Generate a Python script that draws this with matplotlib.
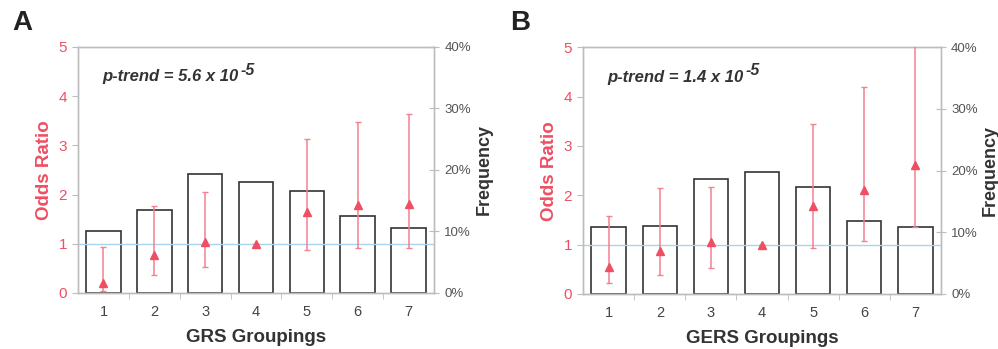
import matplotlib.pyplot as plt
import numpy as np

plt.rcParams['font.family'] = ['Liberation Sans', 'DejaVu Sans']

# Data
groups = [1, 2, 3, 4, 5, 6, 7]

# Panel A (GRS)
freq_a = [10.0, 13.5, 19.4, 18.1, 16.6, 12.5, 10.5]
or_a = [0.20, 0.78, 1.03, 1.00, 1.65, 1.78, 1.81]
lo_a = [0.05, 0.36, 0.53, 1.00, 0.88, 0.91, 0.91]
hi_a = [0.93, 1.76, 2.05, 1.00, 3.13, 3.47, 3.64]

# Panel B (GERS)
freq_b = [10.8, 11.1, 18.6, 19.8, 17.3, 11.8, 10.8]
or_b = [0.55, 0.88, 1.05, 1.00, 1.79, 2.11, 2.61]
lo_b = [0.22, 0.39, 0.52, 1.00, 0.94, 1.07, 1.35]
hi_b = [1.59, 2.14, 2.17, 1.00, 3.45, 4.19, 5.80]

red = '#ef4f63'
red_light = '#f2808e'
gray = '#bdbdbd'
dark = '#333333'

fig = plt.figure(figsize=(9.98, 3.49), dpi=100)


def panel(rect, letter, lx, freq, ors, lo, hi, xlabel, ptext, pexp):
    ax = fig.add_axes(rect)
    ax2 = ax.twinx()
    x = np.array(groups)

    # bars on the frequency axis (right)
    ax2.bar(x, freq, width=0.68, facecolor='white', edgecolor=dark, linewidth=1.2, zorder=1)
    ax2.set_ylim(0, 40)
    ax2.set_yticks([0, 10, 20, 30, 40])
    ax2.set_yticklabels(['0%', '10%', '20%', '30%', '40%'], color='#555555', fontsize=9.5)
    ax2.set_ylabel('Frequency', fontsize=13, fontweight='bold', color=dark, labelpad=3)
    ax2.tick_params(axis='y', direction='inout', length=7, color=gray, pad=4)

    # odds ratios drawn on top
    ax.set_zorder(ax2.get_zorder() + 1)
    ax.patch.set_visible(False)
    ax.axhline(1, color='#a9d4f0', linewidth=1, zorder=2)
    ors = np.array(ors)
    yerr = [ors - np.array(lo), np.array(hi) - ors]
    ax.errorbar(x, ors, yerr=yerr, fmt='^', color=red, ecolor=red_light, elinewidth=1.1,
                capsize=2.5, capthick=1, markersize=6, zorder=3)
    ax.set_ylim(0, 5)
    ax.set_xlim(0.5, 7.5)
    ax.set_yticks([0, 1, 2, 3, 4, 5])
    ax.set_yticklabels(['0', '1', '2', '3', '4', '5'], color=red, fontsize=11)
    ax.tick_params(axis='y', direction='out', length=4, color=gray, pad=4)
    ax.set_xticks(groups)
    ax.set_xticklabels([str(g) for g in groups], color='#444444', fontsize=10.5)
    ax.set_xticks(np.arange(1.5, 7.5, 1), minor=True)
    ax.tick_params(axis='x', which='major', length=0, pad=9)
    ax.tick_params(axis='x', which='minor', direction='out', length=4, color=gray)
    ax.set_ylabel('Odds Ratio', fontsize=13.5, fontweight='bold', color=red, labelpad=4)
    ax.set_xlabel(xlabel, fontsize=13.5, fontweight='bold', color=dark, labelpad=7)

    for a in (ax, ax2):
        for s in a.spines.values():
            s.set_color(gray)
            s.set_linewidth(1)

    t = ax.text(0.97, 4.39, ptext, fontsize=12, fontweight='bold', style='italic', color=dark,
                va='center', ha='left')
    ax.annotate(pexp, xy=(1, 0.5), xycoords=t, xytext=(1.5, 5), textcoords='offset points',
                fontsize=11.5, fontweight='bold', style='italic', color=dark,
                va='center', ha='left')
    fig.text(lx, 0.914, letter, fontsize=20, fontweight='bold', color='#222222',
             va='baseline', ha='left')


panel([0.0782, 0.1605, 0.3567, 0.7049], 'A', 0.012, freq_a, or_a, lo_a, hi_a,
      'GRS Groupings', 'p-trend = 5.6 x 10', '-5')
panel([0.5845, 0.1576, 0.3581, 0.7069], 'B', 0.511, freq_b, or_b, lo_b, hi_b,
      'GERS Groupings', 'p-trend = 1.4 x 10', '-5')

fig.savefig('out.png', dpi=100)
